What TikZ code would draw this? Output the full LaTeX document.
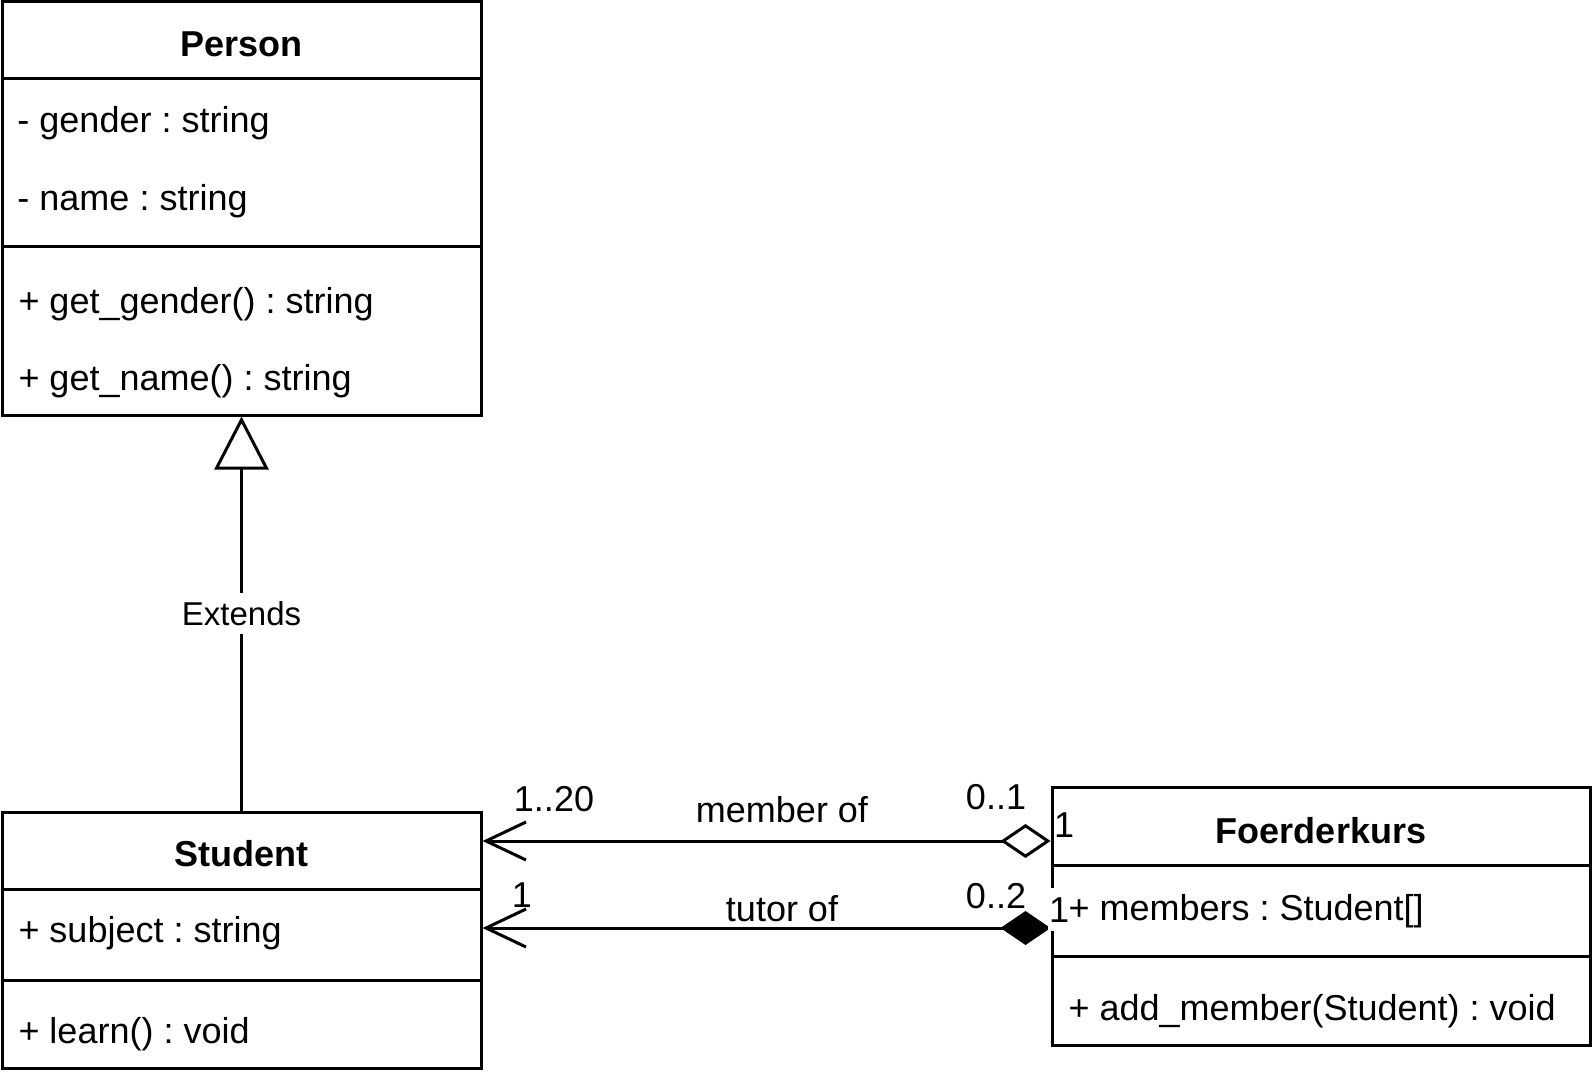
\documentclass[tikz,border=0pt]{standalone}
\usepackage{fontspec}
\setmainfont{Liberation Sans}
\usetikzlibrary{arrows.meta}
\frenchspacing

\begin{document}
\begin{tikzpicture}[x=0.5pt, y=-0.5pt, line width=1.5pt]
	\tikzstyle{classbox} = [rectangle, draw=black, fill=white, inner sep=0pt]
	\tikzstyle{entry}    = [anchor=base west, inner sep=0pt, font=\fontsize{18}{21.6}\selectfont]
	\tikzstyle{title}    = [anchor=base, inner sep=0pt, font=\fontsize{18}{21.6}\selectfont\bfseries]
	\tikzstyle{mult}     = [anchor=base, inner sep=0pt, font=\fontsize{18}{21.6}\selectfont]

	\useasboundingbox (0,0) rectangle (1593,1080);

	% classes
	\node[classbox, minimum width=239.5pt, minimum height=206.5pt] (person) at (241.5,208.5) {};
	\node[classbox, minimum width=239.5pt, minimum height=128pt] (student) at (241.5,940) {};
	\node[classbox, minimum width=269pt, minimum height=129pt] (kurs) at (1321,916) {};

	\foreach \cls/\y in {person/79, person/247, student/889, student/980, kurs/865, kurs/956}
		\draw (\cls.west |- 0,\y) -- (\cls.east |- 0,\y);

	% relations
	\draw[-{Triangle[open, length=26.5pt, width=27pt]}] (student) -- node[fill=white, inner xsep=2pt, inner ysep=4pt, font=\fontsize{16.5}{19}\selectfont] (ext) {Extends} (person);
	\draw[{Diamond[open, length=25pt, width=17pt]}-{Straight Barb[length=20pt, width=19pt]}] (kurs.west |- 0,841) -- (student.east |- 0,841);
	\draw[{Diamond[length=25pt, width=17pt]}-{Straight Barb[length=20pt, width=19pt]}] (kurs.west |- 0,928) -- (student.east |- 0,928);

	\foreach \name/\x/\y/\text in {m120/554/811/1..20, memberof/782/822/member of, m01/996/809/0..1, m1a/1064/837/1,
		m1b/522/907/1, tutorof/782/921/tutor of, m02/996/908/0..2}
		\node[mult] (\name) at (\x,\y) {\text};
	\node[mult, fill=white, inner xsep=0.5pt, inner ysep=4.5pt] (m1c) at (1059,922) {1};

	% texts
	\foreach \name/\x/\y/\text in {tperson/241.5/57/Person, tstudent/241.5/866/Student, tkurs/1321/843/Foerderkurs}
		\node[title] (\name) at (\x,\y) {\text};

	\foreach \name/\x/\y/\text in {gender/16/133/- gender : string, name/16/211/- name : string,
		getgender/17/314/+ get\_gender() : string, getname/17/390/+ get\_name() : string,
		subject/17/942/+ subject : string, learn/17/1043/+ learn() : void,
		members/1067/920/+ members : Student[], addmember/1067/1020/+ add\_member(Student) : void}
		\node[entry] (\name) at (\x,\y) {\text};
\end{tikzpicture}
\end{document}
